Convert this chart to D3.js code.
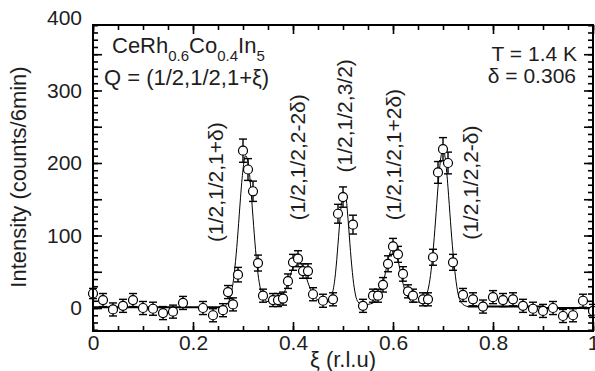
<!DOCTYPE html>
<html>
<head>
<meta charset="utf-8">
<title>CeRh0.6Co0.4In5 scan</title>
<script src="https://d3js.org/d3.v7.min.js"></script>
<style>
  body { margin: 0; background: #fff; }
  svg text { font-family: 'Liberation Sans', Arial, sans-serif; fill: #1e1e1e; }
  .axis path { display: none; }
  .axis line { stroke: #000; stroke-width: 1.6px; }
  .fit { fill: none; stroke: #000; stroke-width: 1px; }
  .bg { fill: none; stroke: #000; stroke-width: 2px; }
  .err { stroke: #000; stroke-width: 1.4px; }
  .pt { fill: #fff; stroke: #000; stroke-width: 1.2px; }
</style>
</head>
<body>
<svg id="chart" width="595" height="371"></svg>
<script>
// measured points
const xi = [0.00, 0.02, 0.04, 0.06, 0.08, 0.10, 0.12, 0.14, 0.16, 0.18, 0.22, 0.24, 0.26, 0.27, 0.28, 0.29,
            0.30, 0.31, 0.32, 0.33, 0.34, 0.36, 0.37, 0.38, 0.39, 0.40, 0.41, 0.42, 0.43, 0.44, 0.46, 0.48,
            0.49, 0.50, 0.52, 0.54, 0.56, 0.57, 0.58, 0.59, 0.60, 0.61, 0.62, 0.63, 0.64, 0.66, 0.67, 0.68,
            0.69, 0.70, 0.71, 0.72, 0.74, 0.76, 0.78, 0.80, 0.82, 0.84, 0.86, 0.88, 0.90, 0.92, 0.94, 0.96,
            0.98, 1.00];
const counts = [20, 11, -2, 3, 11, 0, -1, -7, -5, 7, 0, -10, -3, 22, 5, 46,
                217, 191, 161, 62, 17, 11, 11, 13, 37, 63, 68, 51, 51, 19, 10, 12,
                130, 153, 115, 3, 17, 17, 32, 61, 85, 74, 47, 23, 17, 12, 12, 70,
                187, 219, 200, 63, 18, 12, 2, 15, 11, 12, 3, -1, -4, 0, -11, -10,
                10, -4];
const errors = [7, 9, 9, 9, 9, 9, 9, 9, 9, 9, 9, 9, 9, 9, 9, 10,
                16, 15, 14, 11, 9, 9, 9, 9, 10, 11, 11, 10, 10, 9, 9, 9,
                13, 14, 13, 9, 9, 9, 10, 11, 11, 11, 10, 9, 9, 9, 9, 11,
                15, 16, 15, 11, 9, 9, 9, 9, 9, 9, 9, 9, 9, 9, 9, 9,
                9, 9];

// fitted curve
const fitXi = [0.26, 0.27, 0.275, 0.28, 0.285, 0.29, 0.295, 0.30, 0.305, 0.31, 0.315, 0.32, 0.325, 0.33, 0.335,
               0.34, 0.345, 0.35, 0.36, 0.37, 0.38, 0.39, 0.40, 0.41, 0.42, 0.43, 0.44, 0.45, 0.46, 0.47,
               0.48, 0.485, 0.49, 0.495, 0.50, 0.505, 0.51, 0.515, 0.52, 0.525, 0.53, 0.54, 0.55, 0.56,
               0.57, 0.575, 0.58, 0.585, 0.59, 0.595, 0.60, 0.605, 0.61, 0.615, 0.62, 0.625, 0.63, 0.64,
               0.65, 0.66, 0.665, 0.67, 0.675, 0.68, 0.685, 0.69, 0.695, 0.70, 0.705, 0.71, 0.715, 0.72,
               0.725, 0.73, 0.735, 0.74, 0.75];
const fitI = [1, 7, 16, 34, 64, 105, 152, 191, 210, 202, 170, 125, 81, 47, 26,
              15, 10, 9, 9, 11, 18, 35, 56, 66, 56, 35, 18, 11, 9, 8.5,
              24, 48, 88, 131, 160, 157, 123, 78, 41, 18, 8.5, 4, 5, 7,
              14.5, 22, 34, 49, 66, 78, 83, 78, 66, 49, 34, 22, 15, 8,
              8, 12, 16, 25, 45, 77, 120, 167, 204, 218, 204, 166, 119, 76,
              43, 20, 9.5, 5, 2];
// flat background segments
const bgXi = [[0, 0.26], [0.75, 0.90], [0.90, 1.0]];
const bgI = [[1, 1], [2, 2], [0, 0]];

const xTicks = [0, 0.2, 0.4, 0.6, 0.8, 1];
const yTicks = [0, 100, 200, 300, 400];

const peakLabels = ['(1/2,1/2,1+δ)', '(1/2,1/2,2-2δ)', '(1/2,1/2,3/2)', '(1/2,1/2,1+2δ)', '(1/2,1/2,2-δ)'];
const peakLabelX = [0.245, 0.41, 0.503, 0.602, 0.755];
const peakLabelI = [91, 121, 187, 121, 94];

const svg = d3.select('#chart');
const x = d3.scaleLinear().domain([0, 1]).range([93, 593]);
const y = d3.scaleLinear().domain([-31.7, 390.3]).range([331, 25]);

const xMinor = d3.range(0, 1.0001, 0.05);
const xMajor = xTicks;
const yMinor = d3.range(-30, 391, 10);
const yMajor = d3.range(0, 391, 50);

function tickAxis(axis, vals, size, tx, ty) {
  svg.append('g').attr('class', 'axis')
    .attr('transform', `translate(${tx},${ty})`)
    .call(axis.tickValues(vals).tickSize(-size).tickFormat(''));
}
[[xMinor, 5], [xMajor, 9]].forEach(([v, s]) => {
  tickAxis(d3.axisBottom(x), v, s, 0, 331);
  tickAxis(d3.axisTop(x), v, s, 0, 25);
});
[[yMinor, 5], [yMajor, 9]].forEach(([v, s]) => {
  tickAxis(d3.axisLeft(y), v, s, 93, 0);
  tickAxis(d3.axisRight(y), v, s, 593, 0);
});

// tick labels
const xl = svg.append('g').attr('class', 'axis').attr('transform', 'translate(0,331)')
  .call(d3.axisBottom(x).tickValues(xTicks).tickSize(0).tickPadding(4)
    .tickFormat(d => (d === 0 || d === 1) ? d : d.toFixed(1)));
xl.selectAll('text').style('font-size', '21px');
const yl = svg.append('g').attr('class', 'axis').attr('transform', 'translate(93,0)')
  .call(d3.axisLeft(y).tickValues(yTicks).tickSize(0).tickPadding(11));
yl.selectAll('text').style('font-size', '21px');

// fit line
const line = d3.line().x(d => x(d[0])).y(d => y(d[1])).curve(d3.curveMonotoneX);
svg.append('path').attr('class', 'fit')
  .attr('d', line(fitXi.map((v, i) => [v, fitI[i]])));
bgXi.forEach((seg, i) => {
  svg.append('path').attr('class', 'bg')
    .attr('d', line(seg.map((v, j) => [v, bgI[i][j]])));
});

// error bars
const pts = xi.map((v, i) => ({ x: v, c: counts[i], e: errors[i] }));
const eg = svg.append('g');
pts.forEach(p => {
  const cx = x(p.x);
  eg.append('line').attr('class', 'err').attr('x1', cx).attr('x2', cx)
    .attr('y1', y(p.c - p.e)).attr('y2', y(p.c + p.e));
  [p.c - p.e, p.c + p.e].forEach(v => {
    eg.append('line').attr('class', 'err').attr('x1', cx - 4).attr('x2', cx + 4)
      .attr('y1', y(v)).attr('y2', y(v));
  });
});
svg.append('g').selectAll('circle').data(pts).join('circle')
  .attr('class', 'pt').attr('cx', d => x(d.x)).attr('cy', d => y(d.c)).attr('r', 4.5);

// frame
svg.append('rect').attr('x', 93).attr('y', 25).attr('width', 500).attr('height', 306)
  .attr('fill', 'none').attr('stroke', '#000').attr('stroke-width', 2);

// peak labels (rotated)
peakLabels.forEach((t, i) => {
  svg.append('text')
    .attr('transform', `translate(${x(peakLabelX[i])},${y(peakLabelI[i])}) rotate(-90)`)
    .attr('dy', '0.35em').style('font-size', '21px').text(t);
});

// annotations
const a1 = svg.append('text').attr('x', 112).attr('y', 53).style('font-size', '22px');
a1.append('tspan').text('CeRh');
a1.append('tspan').attr('dy', 8).style('font-size', '15px').text('0.6');
a1.append('tspan').attr('dy', -8).text('Co');
a1.append('tspan').attr('dy', 8).style('font-size', '15px').text('0.4');
a1.append('tspan').attr('dy', -8).text('In');
a1.append('tspan').attr('dy', 8).style('font-size', '15px').text('5');
svg.append('text').attr('x', 104).attr('y', 85).style('font-size', '22px').text('Q = (1/2,1/2,1+ξ)');
svg.append('text').attr('x', 577).attr('y', 61).attr('text-anchor', 'end').style('font-size', '21px').text('T = 1.4 K');
svg.append('text').attr('x', 576).attr('y', 83).attr('text-anchor', 'end').style('font-size', '21px').text('δ = 0.306');

// axis titles
svg.append('text').attr('x', 343).attr('y', 367).attr('text-anchor', 'middle')
  .style('font-size', '22px').text('ξ (r.l.u)');
svg.append('text').attr('transform', 'translate(26,177) rotate(-90)').attr('text-anchor', 'middle')
  .style('font-size', '22px').text('Intensity (counts/6min)');
</script>
</body>
</html>
